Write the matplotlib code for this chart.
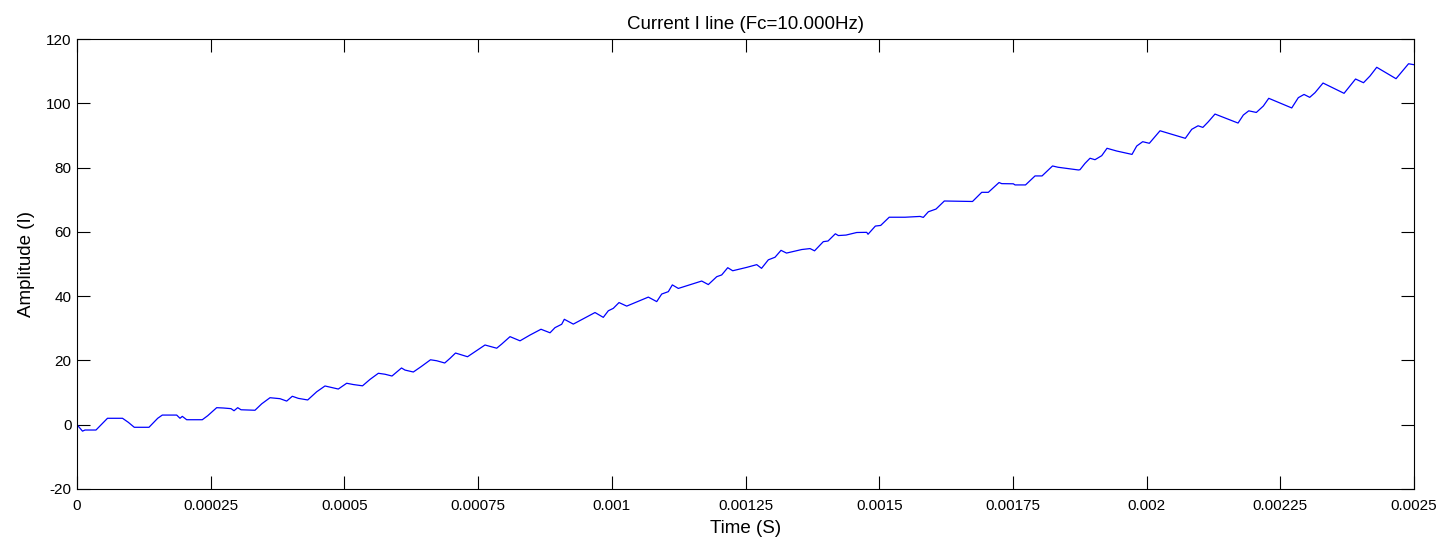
import numpy as np
import matplotlib
matplotlib.use("Agg")
import matplotlib.pyplot as plt

# Line current samples: time in microseconds, amplitude in amperes
time_us = [
    0.0, 10.3, 15.0, 35.5, 57.0, 85.1, 95.9, 107.1, 134.6, 150.9,
    159.5, 186.4, 192.6, 196.9, 205.1, 234.3, 244.4, 261.2, 273.6, 288.0,
    293.6, 300.5, 306.7, 332.8, 345.4, 360.9, 379.6, 392.1, 402.6, 413.8,
    431.4, 448.2, 463.7, 488.6, 504.3, 516.6, 533.9, 547.9, 563.5, 576.0,
    589.0, 606.8, 613.3, 628.9, 643.3, 661.0, 672.6, 687.6, 697.5, 707.8,
    730.2, 744.2, 762.9, 784.8, 794.2, 809.7, 828.4, 847.1, 867.6, 884.5,
    893.8, 906.3, 911.2, 928.0, 968.6, 984.1, 993.5, 1002.8, 1013.5, 1027.9,
    1068.3, 1084.0, 1093.3, 1105.7, 1113.2, 1124.4, 1168.1, 1180.5, 1196.2, 1205.5,
    1216.8, 1226.1, 1252.3, 1271.0, 1280.0, 1292.7, 1305.2, 1316.4, 1326.7, 1355.1,
    1370.7, 1379.1, 1395.5, 1404.3, 1418.0, 1423.6, 1438.0, 1458.0, 1476.7, 1479.1,
    1492.8, 1502.8, 1518.7, 1548.3, 1576.4, 1582.5, 1591.9, 1606.3, 1621.8, 1674.5,
    1691.7, 1704.1, 1724.1, 1729.1, 1750.8, 1754.0, 1773.6, 1791.4, 1804.5, 1824.1,
    1834.4, 1847.4, 1872.7, 1875.5, 1884.8, 1894.2, 1903.5, 1916.1, 1926.0, 1944.1,
    1972.7, 1981.5, 1992.7, 2005.1, 2025.1, 2072.4, 2084.4, 2096.2, 2105.2, 2115.4,
    2127.9, 2171.0, 2180.9, 2191.0, 2205.2, 2218.3, 2228.4, 2271.4, 2283.7, 2294.4,
    2305.0, 2314.9, 2329.9, 2369.2, 2390.7, 2405.6, 2417.8, 2430.3, 2466.4, 2489.8,
    2500.0,
]
current = [
    0.0, -2.0, -1.65, -1.65, 2.0, 2.0, 0.75, -0.8, -0.8, 2.0,
    3.0, 3.0, 2.0, 2.6, 1.55, 1.55, 2.8, 5.3, 5.2, 5.0,
    4.35, 5.3, 4.65, 4.5, 6.5, 8.4, 8.1, 7.35, 8.85, 8.2,
    7.7, 10.25, 12.05, 11.1, 12.9, 12.5, 12.1, 14.1, 16.0, 15.7,
    15.15, 17.65, 17.0, 16.4, 18.05, 20.2, 19.9, 19.2, 20.65, 22.3,
    21.15, 22.7, 24.8, 23.8, 25.1, 27.4, 26.1, 27.9, 29.7, 28.6,
    30.2, 31.25, 32.8, 31.3, 34.9, 33.4, 35.45, 36.2, 38.0, 36.9,
    39.7, 38.3, 40.65, 41.4, 43.5, 42.4, 44.7, 43.6, 46.05, 46.6,
    48.85, 47.9, 48.95, 49.8, 48.65, 51.3, 52.1, 54.25, 53.4, 54.5,
    54.8, 54.1, 56.95, 57.15, 59.4, 58.85, 59.0, 59.8, 59.85, 59.25,
    61.8, 62.0, 64.55, 64.55, 64.8, 64.5, 66.25, 67.1, 69.6, 69.45,
    72.3, 72.3, 75.35, 75.0, 74.95, 74.6, 74.6, 77.4, 77.4, 80.5,
    80.1, 79.8, 79.25, 79.35, 81.3, 82.9, 82.45, 83.7, 86.0, 85.15,
    84.1, 86.7, 88.05, 87.55, 91.45, 89.1, 91.9, 93.0, 92.5, 94.25,
    96.65, 93.85, 96.35, 97.65, 97.15, 99.15, 101.55, 98.55, 101.75, 102.75,
    101.85, 103.3, 106.3, 103.1, 107.55, 106.4, 108.5, 111.2, 107.65, 112.3,
    112.0,
]

x_ticks = [0, 0.00025, 0.0005, 0.00075, 0.001, 0.00125, 0.0015,
           0.00175, 0.002, 0.00225, 0.0025]
x_tick_labels = ["0", "0.00025", "0.0005", "0.00075", "0.001", "0.00125",
                 "0.0015", "0.00175", "0.002", "0.00225", "0.0025"]
y_ticks = [-20, 0, 20, 40, 60, 80, 100, 120]

plt.rcParams["font.family"] = ["Liberation Sans", "DejaVu Sans"]
plt.rcParams["axes.unicode_minus"] = False

t = np.array(time_us) * 1e-6

fig = plt.figure(figsize=(14.45, 5.43), dpi=100)
ax = fig.add_axes([77 / 1445, 54 / 543, 1337 / 1445, 450 / 543])
ax.plot(t, current, color=(0, 0, 1), linewidth=0.9)

ax.set_xlim(0, 0.0025)
ax.set_ylim(-20, 120)
ax.set_xticks(x_ticks)
ax.set_xticklabels(x_tick_labels)
ax.set_yticks(y_ticks)
ax.tick_params(direction="in", length=9.5, width=0.8, top=True, right=True,
               labelsize=11, colors="black")
ax.tick_params(axis="x", pad=7)
ax.tick_params(axis="y", pad=4)
for sp in ax.spines.values():
    sp.set_linewidth(0.8)

ax.set_title("Current I line (Fc=10.000Hz)", fontsize=13.5, pad=7)
ax.set_xlabel("Time (S)", fontsize=13.5, labelpad=5)
ax.set_ylabel("Amplitude (I)", fontsize=13.5, labelpad=8)

fig.savefig("out.png", dpi=100)
